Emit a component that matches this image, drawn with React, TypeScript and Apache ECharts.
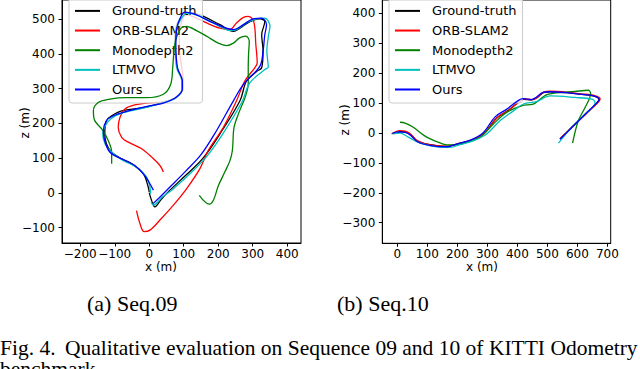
import React, { useEffect, useRef } from "react";
import * as echarts from "echarts";

const seriesNames = ["Ground-truth", "ORB-SLAM2", "Monodepth2", "LTMVO", "Ours"];
const seriesColors = ["#000000", "#ff0000", "#008000", "#00bfbf", "#0000ff"];

// Seq.09 trajectories [x (m), z (m)]
const seq09GT = [[0,0],[8,-25],[16,-40],[35,-18],[60,8],[105,50],[156,100],[205,170],[263,265],[282,322],[312,350],[326,360],[330,408],[326,455],[335,493],[321,501],[292,493],[263,474],[244,465],[205,484],[147,512],[108,519],[89,503],[77,474],[74,427],[79,360],[94,322],[94,298],[74,274],[36,260],[-13,246],[-80,236],[-109,222],[-124,208],[-129,170],[-124,141],[-109,117],[-80,98],[-51,84],[-17,55],[-3,17],[0,2]];
const seq09ORB = [[-37,-51],[-27,-88],[-15,-111],[2,-107],[31,-78],[70,-35],[108,12],[147,70],[171,122],[215,189],[253,265],[277,322],[306,360],[313,374],[309,427],[303,493],[287,508],[273,505],[253,489],[234,470],[205,474],[166,489],[137,503],[108,512],[94,493],[87,455],[89,398],[97,341],[99,303],[79,274],[41,262],[7,260],[-42,253],[-71,241],[-85,217],[-90,189],[-80,160],[-61,146],[-22,127],[7,103],[31,79],[41,60]];
const seq09Mono = [[145,-7],[174,-32],[186,-21],[200,20],[219,60],[234,93],[241,122],[246,189],[262,236],[278,275],[287,315],[287,360],[288,400],[290,436],[280,451],[262,446],[244,431],[224,424],[200,431],[166,451],[137,467],[108,479],[89,470],[74,427],[68,360],[62,312],[41,284],[-8,274],[-66,274],[-114,270],[-148,260],[-162,236],[-158,208],[-138,184],[-119,151],[-109,117],[-109,84]];
const seq09LTMVO = [[5,-25],[12,-35],[38,-12],[65,8],[110,48],[165,103],[210,165],[268,260],[292,317],[335,355],[345,362],[341,408],[346,455],[350,479],[335,503],[311,501],[282,489],[253,470],[234,467],[195,484],[147,508],[110,517],[92,500],[80,474],[76,427],[80,360],[95,322],[95,298],[75,272],[31,257],[-17,244],[-75,231],[-109,215],[-128,193],[-135,170],[-128,141],[-109,117],[-75,93],[-37,74],[-8,46],[2,17],[4,-2]];
const seq09Ours = [[12,-30],[35,-8],[60,17],[105,62],[150,110],[195,179],[244,265],[273,312],[321,365],[330,408],[335,455],[340,484],[326,503],[301,501],[273,484],[244,470],[186,489],[137,512],[103,520],[89,501],[80,474],[77,427],[82,360],[96,322],[96,298],[76,274],[36,257],[-3,250],[-61,236],[-104,222],[-124,208],[-133,179],[-129,150],[-114,117],[-80,98],[-42,79],[-13,50],[12,8]];

// Seq.10 trajectories [x (m), z (m)]
const seq10GT = [[0,0],[9,5],[26,4],[42,-3],[64,-25],[109,-39],[164,-45],[198,-37],[242,-26],[287,-3],[331,50],[370,76],[409,107],[420,113],[448,111],[464,117],[487,135],[509,138],[564,135],[609,130],[653,124],[672,112],[664,100],[626,63],[581,19],[542,-20]];
const seq10ORB = [[-19,-3],[9,8],[26,6],[44,-3],[66,-25],[110,-40],[166,-45],[200,-36],[244,-25],[289,-2],[333,52],[372,77],[411,108],[420,114],[449,112],[465,118],[488,137],[510,140],[565,137],[611,131],[656,126],[676,114],[667,100],[628,63],[583,20],[544,-17]];
const seq10Mono = [[9,36],[26,33],[53,19],[98,-14],[153,-37],[181,-40],[231,-31],[276,-14],[320,30],[364,69],[414,91],[453,97],[476,113],[503,130],[592,139],[637,143],[644,132],[626,86],[603,41],[584,-34]];
const seq10LTMVO = [[-16,-3],[9,0],[37,-14],[76,-34],[131,-46],[176,-48],[209,-39],[253,-26],[298,-3],[342,41],[387,74],[420,97],[464,105],[509,124],[592,119],[648,113],[659,102],[626,63],[581,19],[537,-34]];
const seq10Ours = [[-16,-1],[3,4],[26,2],[45,-8],[68,-30],[112,-42],[165,-46],[200,-36],[243,-24],[285,0],[326,54],[365,80],[405,110],[418,115],[446,112],[462,119],[485,136],[508,138],[563,135],[608,130],[654,124],[673,112],[663,99],[625,62],[580,17],[542,-21]];

const seq09XTicks = [-200, -100, 0, 100, 200, 300, 400];
const seq09YTicks = [-100, 0, 100, 200, 300, 400, 500];
const seq10XTicks = [0, 100, 200, 300, 400, 500, 600, 700];
const seq10YTicks = [-300, -200, -100, 0, 100, 200, 300, 400];

const FONT = "DejaVu Sans";
const SERIF = "Liberation Serif";

const fmt = (v: number) => String(v).replace("-", "\u2212");

function makeX(idx: number, min: number, max: number, ticks: number[]) {
  return {
    type: "value", gridIndex: idx, min, max,
    axisLine: { show: true, onZero: false, lineStyle: { color: "#000", width: 1 } },
    axisTick: { show: true, length: 3.5, customValues: ticks, lineStyle: { color: "#000" } },
    axisLabel: { customValues: ticks, formatter: fmt, color: "#000", fontFamily: FONT, fontSize: 12, margin: 5 },
    splitLine: { show: false },
  };
}
function makeY(idx: number, min: number, max: number, ticks: number[]) {
  return {
    type: "value", gridIndex: idx, min, max,
    axisLine: { show: true, onZero: false, lineStyle: { color: "#000", width: 1 } },
    axisTick: { show: true, length: 3.5, customValues: ticks, lineStyle: { color: "#000" } },
    axisLabel: { customValues: ticks, formatter: fmt, color: "#000", fontFamily: FONT, fontSize: 12, margin: 7 },
    splitLine: { show: false },
  };
}

function makeLegend(left: number) {
  return {
    left, top: -2.6, orient: "vertical",
    icon: "rect",
    itemWidth: 25, itemHeight: 2, itemGap: 4.65,
    padding: [6, 6, 6, 6],
    backgroundColor: "rgba(255,255,255,0.8)",
    borderColor: "#cccccc", borderWidth: 1, borderRadius: 3,
    textStyle: { fontFamily: FONT, fontSize: 13, lineHeight: 15, color: "#000", padding: [0, 0, 0, 7] },
    data: seriesNames,
  };
}

export default function App() {
  const ref = useRef<HTMLDivElement>(null);
  useEffect(() => {
    document.body.style.margin = "0";
    const chart = echarts.init(ref.current!, null, { renderer: "svg", width: 640, height: 369 });
    const seq09 = [seq09GT, seq09ORB, seq09Mono, seq09LTMVO, seq09Ours];
    const seq10 = [seq10GT, seq10ORB, seq10Mono, seq10LTMVO, seq10Ours];
    const series: any[] = [];
    [seq09, seq10].forEach((set, g) => {
      set.forEach((d, i) => {
        series.push({
          type: "line", name: seriesNames[i], xAxisIndex: g, yAxisIndex: g,
          data: d, symbol: "none", showSymbol: false, smooth: 0.35,
          lineStyle: { color: seriesColors[i], width: 1.3 },
          itemStyle: { color: seriesColors[i] },
          z: 2 + i,
        });
      });
    });
    chart.setOption({
      animation: false,
      backgroundColor: "#ffffff",
      grid: [
        { left: 62, top: -1.5, width: 239, height: 244.5, show: true, borderColor: "#000", borderWidth: 1, containLabel: false },
        { left: 382.3, top: -1.5, width: 228.4, height: 244.8, show: true, borderColor: "#000", borderWidth: 1, containLabel: false },
      ],
      xAxis: [makeX(0, -253, 440, seq09XTicks), makeX(1, -50, 711, seq10XTicks)],
      yAxis: [makeY(0, -144, 555, seq09YTicks), makeY(1, -369, 445, seq10YTicks)],
      legend: [makeLegend(69), makeLegend(389)],
      series,
      graphic: [
        { type: "text", x: 161, y: 267, style: { text: "x (m)", font: `12px "${FONT}"`, fill: "#000", textAlign: "center", textVerticalAlign: "middle" } },
        { type: "text", x: 482, y: 267, style: { text: "x (m)", font: `12px "${FONT}"`, fill: "#000", textAlign: "center", textVerticalAlign: "middle" } },
        { type: "text", x: 25, y: 123, rotation: Math.PI / 2, style: { text: "z (m)", font: `12px "${FONT}"`, fill: "#000", textAlign: "center", textVerticalAlign: "middle" } },
        { type: "text", x: 345, y: 120, rotation: Math.PI / 2, style: { text: "z (m)", font: `12px "${FONT}"`, fill: "#000", textAlign: "center", textVerticalAlign: "middle" } },
        { type: "text", x: 87, y: 303, style: { text: "(a) Seq.09", font: `22px "${SERIF}"`, fill: "#000", textAlign: "left", textVerticalAlign: "middle" } },
        { type: "text", x: 337, y: 303, style: { text: "(b) Seq.10", font: `22px "${SERIF}"`, fill: "#000", textAlign: "left", textVerticalAlign: "middle" } },
        { type: "text", x: 0, y: 348, style: { text: "Fig. 4.", font: `21.5px "${SERIF}"`, lineHeight: 19, fill: "#000", textAlign: "left", textVerticalAlign: "middle" } },
        { type: "text", x: 65, y: 348, style: { text: "Qualitative evaluation on Sequence 09 and 10 of KITTI Odometry", font: `21.5px "${SERIF}"`, lineHeight: 19, fill: "#000", textAlign: "left", textVerticalAlign: "middle" } },
        { type: "text", x: 0, y: 368.5, style: { text: "benchmark", font: `21.5px "${SERIF}"`, lineHeight: 19, fill: "#000", textAlign: "left", textVerticalAlign: "middle" } },
      ],
    });
    return () => chart.dispose();
  }, []);
  return <div ref={ref} style={{ position: "absolute", left: 0, top: 0, width: 640, height: 369 }} />;
}
